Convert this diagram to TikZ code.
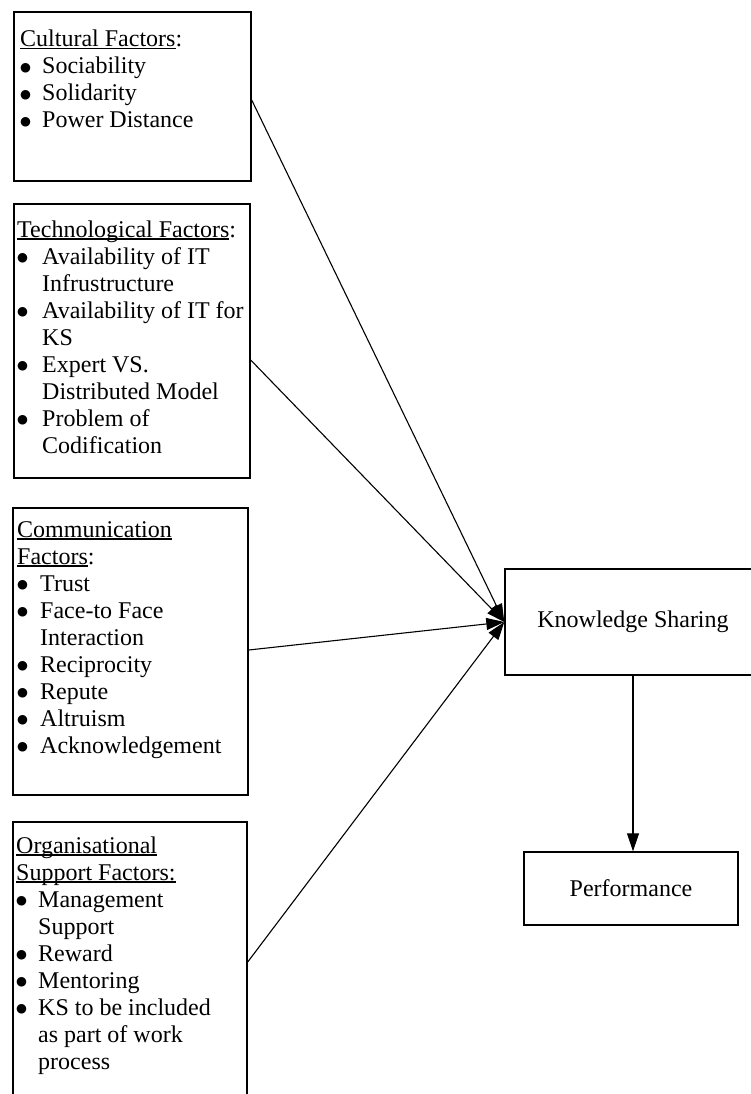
\documentclass[tikz,border=0pt]{standalone}
\usepackage{fontspec}
\setmainfont{Liberation Serif}
\newfontfamily\symfont{DejaVu Sans}
\usetikzlibrary{arrows.meta}
% underline at a fixed depth below the baseline
\newcommand\ulbox[1]{\setbox0\hbox{#1}\rlap{\rule[-2.5pt]{\wd0}{1.1pt}}\box0}
\newcommand\hd[1]{\multicolumn{2}{@{}l@{}}{#1}}
\newcommand\bul{\raisebox{2.5pt}{\symfont\fontsize{12.5pt}{12.5pt}\selectfont ●}}
\begin{document}
\begin{tikzpicture}[x=1pt,y=-1pt,
  txt/.style={font=\fontsize{24pt}{27pt}\selectfont},
  factorbox/.style={draw, line width=1.4pt, rectangle, inner sep=0pt},
  mainbox/.style={draw, line width=1.4pt, rectangle, inner sep=0pt, txt},
  listtext/.style={anchor=base west, inner sep=0pt, align=left, txt},
  arr/.style={line width=1.1pt, -{Triangle[length=18pt,width=12pt]}}]
\useasboundingbox (0,0) rectangle (751,1094);

% factor boxes
\node[factorbox, minimum width=237pt, minimum height=169pt] (b1) at (132.5,96.5) {};
\node[factorbox, minimum width=236pt, minimum height=274pt] (b2) at (132,341) {};
\node[factorbox, minimum width=235pt, minimum height=287pt] (b3) at (130.5,651.5) {};
\node[factorbox, minimum width=234pt, minimum height=280pt] (b4) at (130,962) {};

% factor lists
\node[listtext] (t1) at (20,47) {\begin{tabular}[t]{@{}p{22pt}@{}l@{}}
\hd{\ulbox{Cultural Factors}:}\\
\bul & Sociability\\
\bul & Solidarity\\
\bul & Power Distance
\end{tabular}};

\node[listtext] (t2) at (17,237) {\begin{tabular}[t]{@{}p{25pt}@{}l@{}}
\hd{\ulbox{Technological Factors}:}\\
\bul & Availability of IT\\
 & Infrustructure\\
\bul & Availability of IT for\\
 & KS\\
\bul & Expert VS.\\
 & Distributed Model\\
\bul & Problem of\\
 & Codification
\end{tabular}};

\node[listtext] (t3) at (17,537) {\begin{tabular}[t]{@{}p{23pt}@{}l@{}}
\hd{\ulbox{Communication}}\\
\hd{\ulbox{Factors}:}\\
\bul & Trust\\
\bul & Face-to Face\\
 & Interaction\\
\bul & Reciprocity\\
\bul & Repute\\
\bul & Altruism\\
\bul & Acknowledgement
\end{tabular}};

\node[listtext] (t4) at (16,853) {\begin{tabular}[t]{@{}p{22pt}@{}l@{}}
\hd{\ulbox{Organisational}}\\
\hd{\ulbox{Support Factors:}}\\
\bul & Management\\
 & Support\\
\bul & Reward\\
\bul & Mentoring\\
\bul & KS to be included\\
 & as part of work\\
 & process
\end{tabular}};

% outcome boxes
\node[mainbox, minimum width=256pt, minimum height=106pt] (ks) at (633,622) {Knowledge Sharing};
\node[mainbox, minimum width=214pt, minimum height=73pt] (perf) at (631,888.5) {Performance};

% connectors
\draw[arr] ([yshift=-3.5pt]b1.east) -- (ks.west);
\draw[arr] ([yshift=-19pt]b2.east) -- (ks.west);
\draw[arr] ([yshift=1.5pt]b3.east) -- (ks.west);
\draw[arr] (b4.east) -- (ks.west);
\draw[arr] (ks.south) -- (ks.south |- perf.north);
\end{tikzpicture}
\end{document}
